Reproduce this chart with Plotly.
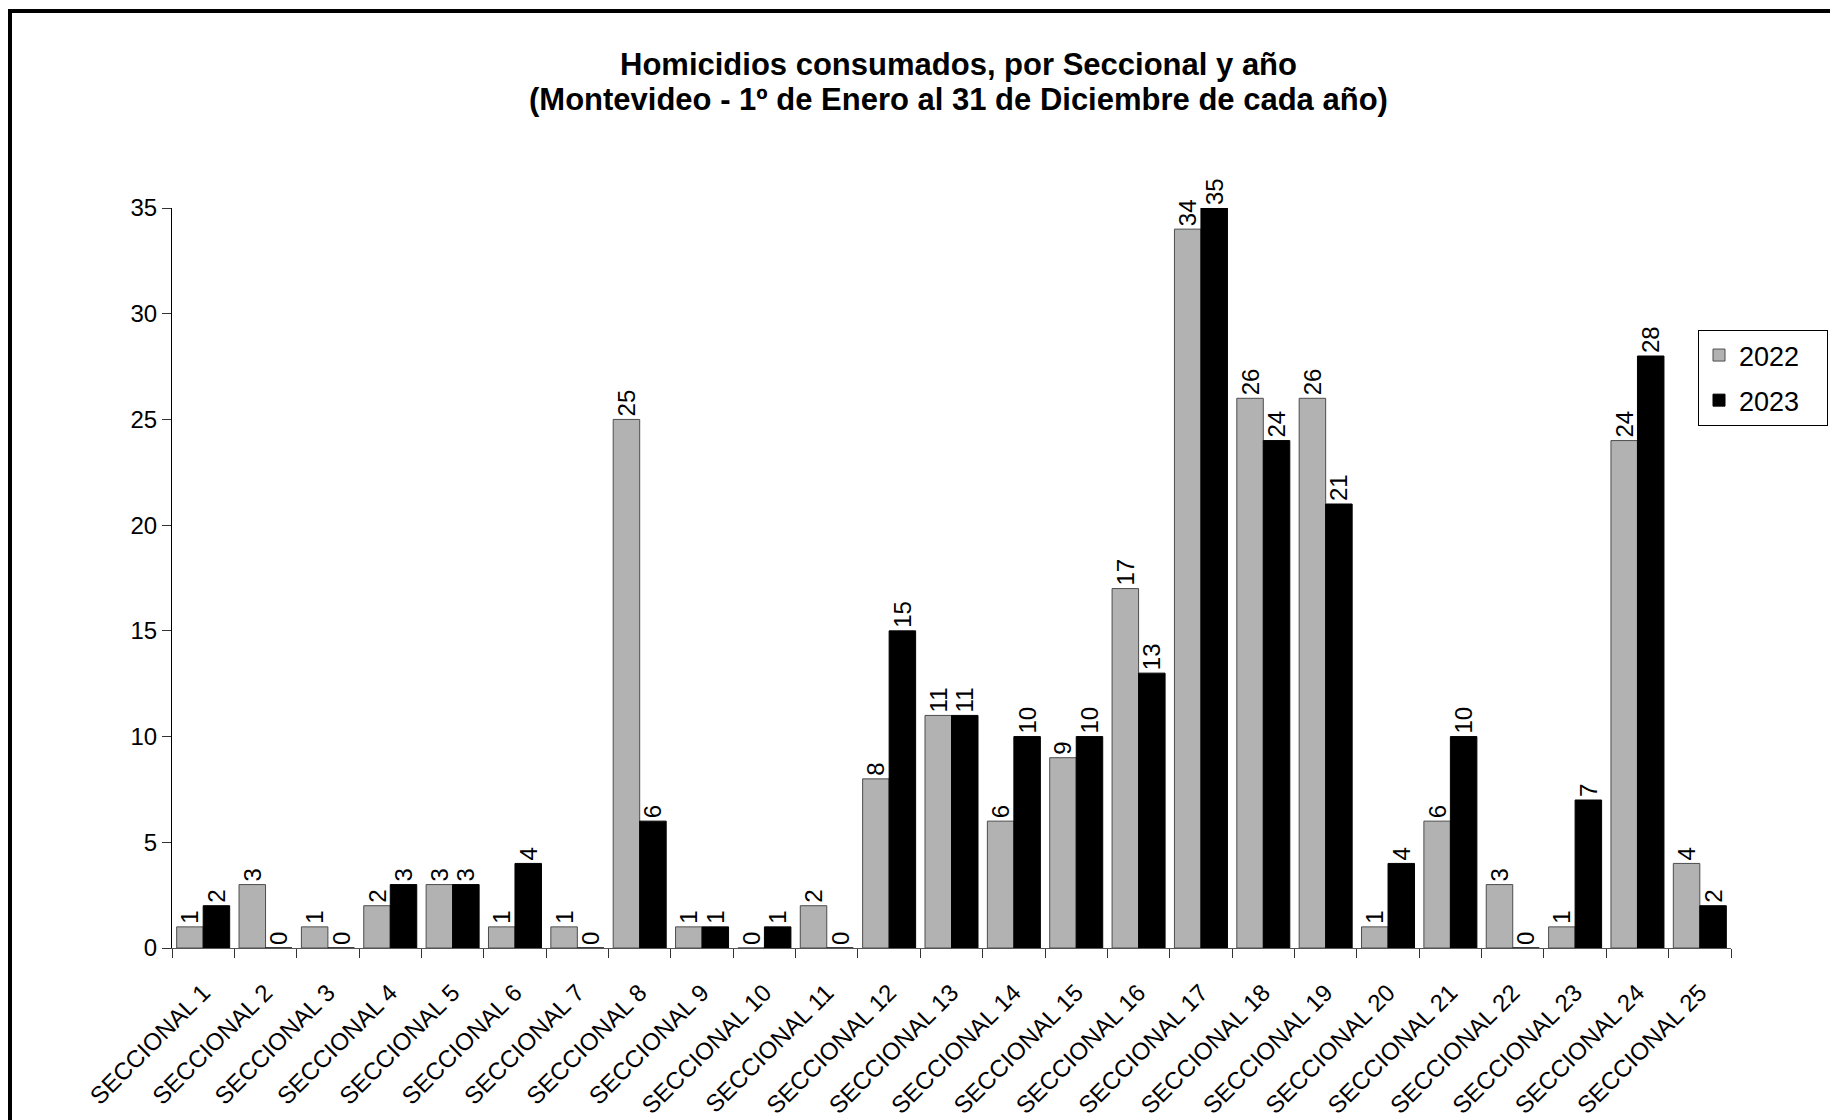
import plotly.graph_objects as go

seccionales = [f"SECCIONAL {i}" for i in range(1, 26)]
homicidios_2022 = [1, 3, 1, 2, 3, 1, 1, 25, 1, 0, 2, 8, 11, 6, 9, 17, 34, 26, 26, 1, 6, 3, 1, 24, 4]
homicidios_2023 = [2, 0, 0, 3, 3, 4, 0, 6, 1, 1, 0, 15, 11, 10, 10, 13, 35, 24, 21, 4, 10, 0, 7, 28, 2]

titulo_1 = "Homicidios consumados, por Seccional y año"
titulo_2 = "(Montevideo - 1º de Enero al 31 de Diciembre de cada año)"

# the page body adds an 8px offset, so figure coords are page coords - 8
W, H = 1838, 1120
L, R, T, B = 164, 115, 200, 180
pw, ph = W - L - R, H - T - B

FONT = "Liberation Sans, Arial, sans-serif"


def px_x(x):
    return (x - L) / pw


def px_y(y):
    return (H - B - y) / ph


fig = go.Figure()

fig.add_trace(
    go.Bar(
        x=seccionales,
        y=homicidios_2022,
        name="2022&nbsp;&nbsp;&nbsp;",
        legendgroup="a",
        marker=dict(color="#B2B2B2", line=dict(color="#4d4d4d", width=1)),
        text=homicidios_2022,
        textposition="outside",
        textangle=-90,
        constraintext="none",
        cliponaxis=False,
        textfont=dict(size=24, color="black", family=FONT),
    )
)

fig.add_trace(
    go.Bar(
        x=seccionales,
        y=homicidios_2023,
        name="2023&nbsp;&nbsp;&nbsp;",
        legendgroup="b",
        marker=dict(color="black", line=dict(color="black", width=1)),
        text=homicidios_2023,
        textposition="outside",
        textangle=-90,
        constraintext="none",
        cliponaxis=False,
        textfont=dict(size=24, color="black", family=FONT),
    )
)

# frame on top and left edges
fig.add_shape(
    type="rect",
    xref="paper", yref="paper",
    x0=px_x(2), x1=px_x(W + 20),
    y0=px_y(H + 20), y1=px_y(3),
    line=dict(color="black", width=4),
    fillcolor="rgba(0,0,0,0)",
    layer="above",
)

for texto, y in [(titulo_1, 56), (titulo_2, 92)]:
    fig.add_annotation(
        text=f"<b>{texto}</b>",
        xref="paper", yref="paper",
        x=px_x(951), y=px_y(y),
        xanchor="center", yanchor="middle",
        showarrow=False,
        font=dict(size=31, family=FONT, color="black"),
    )

fig.update_layout(
    width=W,
    height=H,
    margin=dict(l=L, r=R, t=T, b=B, autoexpand=False),
    paper_bgcolor="white",
    plot_bgcolor="white",
    font=dict(family=FONT, color="black"),
    barmode="group",
    bargap=0.15,
    bargroupgap=0,
    xaxis=dict(
        automargin=False,
        tickangle=-45,
        tickson="boundaries",
        ticks="outside",
        ticklen=9,
        tickcolor="#333",
        ticklabelstandoff=20,
        showline=True,
        linecolor="#555",
        showgrid=False,
        tickfont=dict(size=24, family=FONT),
    ),
    yaxis=dict(
        automargin=False,
        range=[0, 35],
        tickvals=[0, 5, 10, 15, 20, 25, 30, 35],
        ticks="outside",
        ticklen=9,
        tickcolor="#333",
        showline=True,
        linecolor="black",
        showgrid=False,
        zeroline=False,
        tickfont=dict(size=24, family=FONT),
    ),
    legend=dict(
        x=px_x(1690),
        y=px_y(322),
        xanchor="left",
        yanchor="top",
        traceorder="grouped",
        tracegroupgap=7,
        bordercolor="black",
        borderwidth=1,
        bgcolor="white",
        font=dict(size=27, family=FONT),
    ),
)

fig.write_html("out.html")
